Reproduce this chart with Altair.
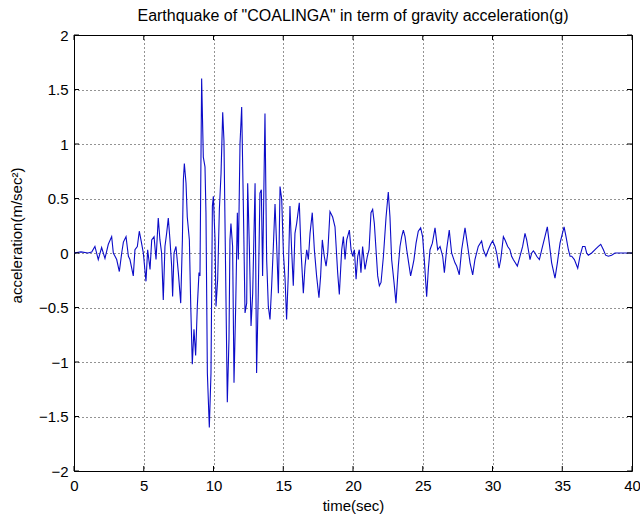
import altair as alt
import pandas as pd

# time (s) and acceleration values
t = [0.0, 0.5, 1.0, 1.27, 1.5, 1.74, 1.98, 2.22, 2.46, 2.7, 2.82, 3.06, 3.25, 3.42, 3.54, 3.73,
     3.9, 4.01, 4.25, 4.37, 4.54, 4.68, 4.8, 4.97, 5.16, 5.28,
     5.45, 5.57, 5.74, 5.88, 6.04, 6.16, 6.28, 6.40, 6.52, 6.64, 6.76, 6.88, 7.0, 7.07, 7.17,
     7.31, 7.48, 7.65, 7.77, 7.84, 7.91, 8.03, 8.12, 8.27, 8.37, 8.48, 8.6, 8.72, 8.84, 8.96,
     9.03, 9.15, 9.27, 9.39, 9.46, 9.56, 9.7, 9.82, 9.92, 9.99, 10.11, 10.18, 10.3, 10.42,
     10.54, 10.66, 10.75, 10.87, 10.99, 11.11, 11.18, 11.25, 11.37, 11.47, 11.59, 11.71,
     11.78, 11.9, 12.02, 12.14, 12.26, 12.38, 12.45, 12.57, 12.69, 12.81, 12.98, 13.09,
     13.21, 13.33, 13.43, 13.52, 13.69, 13.81, 13.93, 14.05, 14.17, 14.29, 14.41, 14.53,
     14.65, 14.77, 14.89, 15.01, 15.13, 15.24, 15.36,
     15.48, 15.6, 15.72, 15.84, 15.96, 16.15, 16.27, 16.44, 16.56, 16.68, 16.8, 16.92, 17.08,
     17.23, 17.39, 17.56, 17.68, 17.8, 17.94, 18.07, 18.19, 18.35, 18.54, 18.71, 18.9, 19.02,
     19.19, 19.31, 19.43, 19.55, 19.74, 19.86, 19.98, 20.1, 20.22, 20.34, 20.45, 20.57, 20.69,
     20.86, 21.03, 21.15, 21.29, 21.41, 21.53, 21.65, 21.77, 21.89, 22.01, 22.18, 22.37, 22.53,
     22.65, 22.77, 22.94, 23.08, 23.25, 23.37, 23.49, 23.61, 23.73, 23.85, 23.99, 24.13, 24.28,
     24.37, 24.52, 24.68, 24.85, 24.99, 25.11, 25.28, 25.4, 25.52, 25.69, 25.88, 26.07, 26.24,
     26.43, 26.55, 26.71, 26.9,
     27.07, 27.31, 27.43, 27.62, 27.79, 28.03, 28.19, 28.39, 28.58, 28.74, 28.98, 29.22, 29.34,
     29.53, 29.7, 29.87, 30.01, 30.18, 30.3, 30.47, 30.59, 30.78, 30.9, 31.09, 31.25, 31.37,
     31.49, 31.78, 31.97, 32.16, 32.33, 32.45, 32.57, 32.69, 32.81, 32.93, 33.05, 33.17, 33.36,
     33.53, 33.76, 33.93, 34.07, 34.24, 34.48, 34.65, 34.84, 35.13, 35.27, 35.44, 35.56, 35.68,
     35.87, 36.11, 36.27, 36.46, 36.63, 36.75, 36.87, 37.11, 37.35, 37.59, 37.76, 37.95, 38.11,
     38.3, 38.54, 38.78, 39.14, 40.0]

acc = [0.0, 0.01, 0.0, 0.01, 0.06, -0.06, 0.05, -0.05, 0.08, 0.15, 0.0, -0.06, -0.17, 0.0, 0.1, 0.15,
       -0.03, -0.06, -0.21, 0.03, 0.06, 0.2, 0.12, 0.0, -0.26, 0.03,
       -0.15, 0.12, 0.15, -0.06, 0.32, 0.12, 0.0, -0.43, 0.06, 0.18, 0.32, 0.12, -0.12, -0.40, 0.0,
       0.06, -0.18, -0.46, 0.12, 0.67, 0.82, 0.64, 0.33, 0.12, -0.49, -1.02, -0.70, -0.94, -0.49, -0.18,
       -0.21, 1.60, 0.88, 0.79, 0.37, -1.10, -1.60, -1.10, 0.43, 0.52, 0.12, -0.49, -0.24, 0.40,
       0.73, 1.29, 1.03, -0.18, -1.37, -0.79, 0.12, 0.27, 0.06, -1.19, -0.49, 0.37,
       -0.06, 1.00, 1.34, 0.43, -0.55, -0.46, 0.64, 0.06, -0.67, -0.37, 0.64, -1.10,
       -0.37, 0.55, 0.58, -0.21, 1.28, -0.06, -0.49, -0.61, -0.30, 0.06, 0.45, 0.06,
       -0.37, 0.61, 0.49, 0.0, -0.24, -0.61, -0.21,
       0.43, 0.03, -0.30, 0.18, 0.27, 0.46, 0.03, -0.37, -0.12, 0.03, -0.06, 0.18, 0.37,
       0.03, -0.21, -0.41, -0.21, 0.12, -0.03, -0.12, 0.0, 0.38, 0.33, 0.24, -0.18, -0.38,
       0.03, 0.15, -0.06, 0.12, 0.21, 0.03, -0.03, 0.03, -0.24, -0.03, 0.03, -0.18, 0.06,
       -0.15, -0.03, 0.03, 0.37, 0.40, 0.27, 0.03, -0.21, -0.30, -0.27, -0.03, 0.33, 0.56,
       0.33, -0.06, -0.27, -0.46, -0.12, 0.06, 0.15, 0.21, 0.15, 0.03, -0.09, -0.21, -0.12,
       -0.06, 0.09, 0.20, 0.23, 0.15, -0.06, -0.40, -0.15, 0.03, 0.09, 0.23, 0.03, 0.06,
       -0.03, -0.18, 0.03, 0.21,
       0.0, -0.09, -0.12, -0.20, 0.03, 0.23, 0.09, -0.09, -0.20, -0.06, 0.06, 0.11, 0.03,
       -0.03, 0.03, 0.08, 0.11, 0.06, 0.0, -0.14, -0.06, 0.15, 0.12, 0.06, 0.03, -0.03,
       -0.06, -0.12, -0.03, 0.06, 0.18, 0.12, 0.03, -0.06, 0.0, 0.02, 0.0, -0.03, -0.06,
       0.03, 0.15, 0.24, 0.09, -0.09, -0.23, -0.09, 0.09, 0.24, 0.15, 0.03, -0.03, -0.03,
       -0.06, -0.14, -0.03, 0.06, 0.06, 0.0, -0.02, 0.0, 0.03, 0.06, 0.08, 0.03, -0.02,
       -0.03, -0.02, 0.0, 0.0, 0.0]

x_ticks = [0, 5, 10, 15, 20, 25, 30, 35, 40]
y_ticks = [-2, -1.5, -1, -0.5, 0, 0.5, 1, 1.5, 2]

title_text = 'Earthquake of "COALINGA" in term of gravity acceleration(g)'
x_title = "time(sec)"
y_title = "acceleration(m/sec²)"

W, H = 558, 436
FONT = "Liberation Sans"

df = pd.DataFrame({"t": t, "v": acc})
xt = pd.DataFrame({"t": x_ticks})
yt = pd.DataFrame({"v": y_ticks})

x_enc = alt.X("t:Q", scale=alt.Scale(domain=[0, 40], nice=False, zero=False),
              axis=alt.Axis(values=x_ticks, title=x_title, grid=True, ticks=False, domain=False,
                            format="~g",
                            gridDash=[1, 3], gridColor="#000000", gridOpacity=0.85,
                            labelFont=FONT, labelFontSize=15, labelColor="#000",
                            labelPadding=7, titleFont=FONT, titleFontSize=15,
                            titleFontWeight="normal", titleColor="#000", titlePadding=5,
                            labelFlush=False, labelOverlap=False))
y_enc = alt.Y("v:Q", scale=alt.Scale(domain=[-2, 2], nice=False, zero=False),
              axis=alt.Axis(values=y_ticks, title=y_title, grid=True, ticks=False, domain=False,
                            format="~g",
                            gridDash=[1, 3], gridColor="#000000", gridOpacity=0.85,
                            labelFont=FONT, labelFontSize=15, labelColor="#000",
                            labelPadding=6, titleFont=FONT, titleFontSize=15,
                            titleFontWeight="normal", titleColor="#000",
                            titleX=-58, titleY=200, titleAlign="center",
                            titleBaseline="middle", titleAngle=270,
                            labelFlush=False, labelOverlap=False))

line = alt.Chart(df).mark_line(color="#0c0cc8", strokeWidth=1.1).encode(x=x_enc, y=y_enc)

tick_bottom = alt.Chart(xt).mark_rule(color="black", strokeWidth=1).encode(
    x=x_enc, y=alt.value(H), y2=alt.value(H - 5))
tick_top = alt.Chart(xt).mark_rule(color="black", strokeWidth=1).encode(
    x=x_enc, y=alt.value(0), y2=alt.value(5))
tick_left = alt.Chart(yt).mark_rule(color="black", strokeWidth=1).encode(
    y=y_enc, x=alt.value(0), x2=alt.value(5))
tick_right = alt.Chart(yt).mark_rule(color="black", strokeWidth=1).encode(
    y=y_enc, x=alt.value(W), x2=alt.value(W - 5))

chart = alt.layer(line, tick_bottom, tick_top, tick_left, tick_right).properties(
    width=W, height=H,
    title=alt.TitleParams(text=title_text, font=FONT, fontSize=16, fontWeight="normal",
                          color="#000", anchor="middle", offset=4),
    autosize=alt.AutoSizeParams(type="none"),
    padding={"left": 74, "top": 35, "right": 8, "bottom": 43},
    background="white",
).configure_view(stroke="#000000", strokeWidth=1)

chart.save("out.html", embed_options={"renderer": "svg", "actions": False})
